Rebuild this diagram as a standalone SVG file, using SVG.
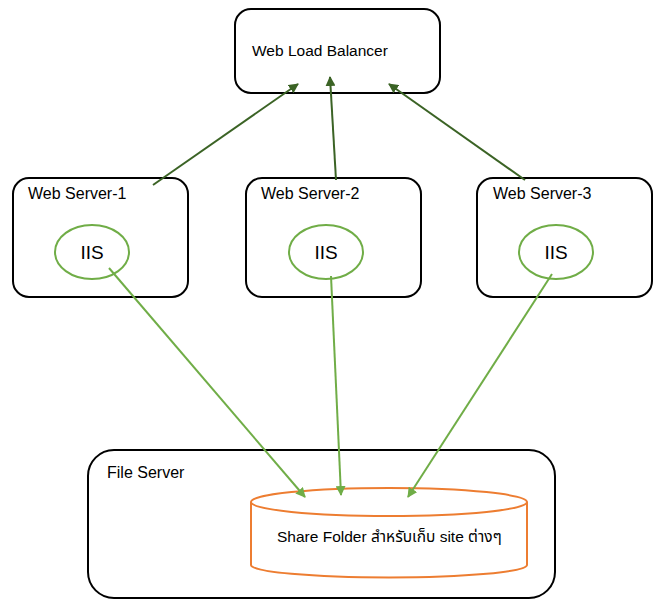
<svg xmlns="http://www.w3.org/2000/svg" width="662" height="616" viewBox="0 0 662 616">
<style>
.box{fill:#fff;stroke:#000;stroke-width:2}
.iis{fill:#fff;stroke:#70ad47;stroke-width:2}
.cyl{fill:#fff;stroke:#ed7d31;stroke-width:2}
.t{font-family:"Liberation Sans","Noto Sans",sans-serif;font-size:15.5px;fill:#000}
.big{font-size:19px}
.th{font-family:"Liberation Sans","Noto Sans","Noto Sans Thai",sans-serif;font-size:15.5px;fill:#000}
.dk{stroke:#3b6325;stroke-width:2;fill:none;marker-end:url(#ad)}
.lt{stroke:#70ad47;stroke-width:2;fill:none;marker-end:url(#al)}
</style>
<defs>
<marker id="ad" viewBox="0 0 10 10" refX="9" refY="5" markerWidth="5" markerHeight="5" orient="auto" markerUnits="strokeWidth"><path d="M0,0 L10,5 L0,10 z" fill="#3b6325"/></marker>
<marker id="al" viewBox="0 0 10 10" refX="9" refY="5" markerWidth="5" markerHeight="5" orient="auto" markerUnits="strokeWidth"><path d="M0,0 L10,5 L0,10 z" fill="#70ad47"/></marker>
</defs>
<rect width="662" height="616" fill="#fff"/>
<g id="lb"><rect class="box" x="235" y="9" width="205" height="84" rx="16"/><text class="t" x="252" y="56">Web Load Balancer</text></g>
<g id="ws1"><rect class="box" x="13" y="178" width="175" height="119" rx="16"/><text class="t" x="28" y="199" style="font-size:16px">Web Server-1</text><ellipse class="iis" cx="92" cy="252" rx="37" ry="27"/><text class="t big" x="92" y="259" text-anchor="middle">IIS</text></g>
<g id="ws2"><rect class="box" x="246" y="178" width="175" height="119" rx="16"/><text class="t" x="261" y="199" style="font-size:16px">Web Server-2</text><ellipse class="iis" cx="326" cy="252" rx="37" ry="27"/><text class="t big" x="326" y="259" text-anchor="middle">IIS</text></g>
<g id="ws3"><rect class="box" x="477" y="178" width="175" height="119" rx="16"/><text class="t" x="493" y="199" style="font-size:16px">Web Server-3</text><ellipse class="iis" cx="556" cy="252" rx="37" ry="27"/><text class="t big" x="556" y="259" text-anchor="middle">IIS</text></g>
<g id="fs"><rect class="box" x="88" y="450" width="467" height="148" rx="26"/><text class="t" x="107" y="478" style="font-size:16px">File Server</text></g>
<g id="share">
<path class="cyl" d="M251,502 L251,565 A138,12.5 0 0 0 527,565 L527,502"/>
<ellipse class="cyl" cx="389" cy="502" rx="138" ry="14"/>
<text class="th" x="277" y="542">Share Folder สำหรับเก็บ site ต่างๆ</text>
</g>
<g id="connectors">
<line class="dk" x1="153" y1="185" x2="298" y2="84"/>
<line class="dk" x1="336" y1="180" x2="330" y2="77"/>
<line class="dk" x1="525" y1="180" x2="389" y2="84"/>
<line class="lt" x1="109" y1="268" x2="305" y2="497"/>
<line class="lt" x1="331" y1="276" x2="341" y2="495"/>
<line class="lt" x1="552" y1="274" x2="408" y2="497"/>
</g>
</svg>
